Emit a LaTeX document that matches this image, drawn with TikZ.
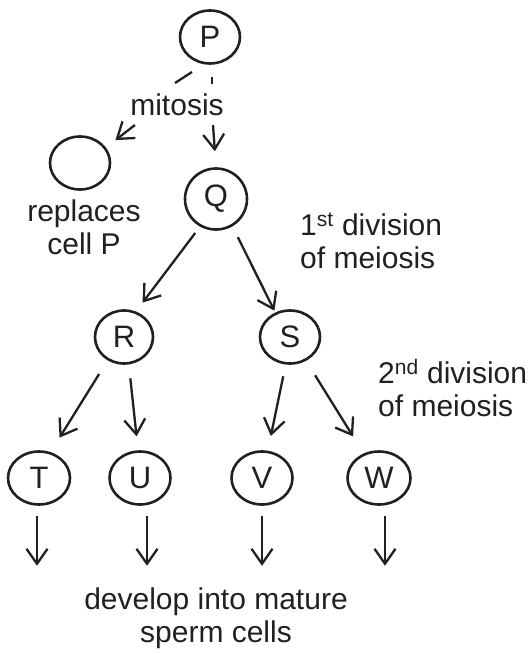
\documentclass[tikz,border=0pt]{standalone}
\usepackage{fontspec}
\setmainfont{Liberation Sans}
\usetikzlibrary{arrows.meta}
\usepgflibrary{shapes.geometric}
\definecolor{tinta}{RGB}{35,31,32}

\begin{document}
\begin{tikzpicture}[x=1pt,y=-1pt,
  celula/.style={draw=tinta, ellipse, line width=2.6pt, minimum width=60pt,
    minimum height=53pt, inner sep=0pt, text=tinta, font=\fontsize{31}{31}\selectfont},
  flecha/.style={draw=tinta, line width=2.3pt,
    -{Straight Barb[length=15pt,width=21pt]}},
  linea/.style={draw=tinta, line width=2.3pt},
  texto/.style={text=tinta, inner sep=0pt, font=\fontsize{30}{33}\selectfont}]
  \useasboundingbox (0,0) rectangle (530,655);

  % Celulas
  \node[celula] (P) at (210,37) {P};
  \node[celula] (X) at (80,163) {};
  \node[celula, minimum width=62pt, minimum height=61pt] (Q) at (216,199) {Q};
  \node[celula, minimum width=58pt] (R) at (124,337) {R};
  \node[celula] (S) at (290,337) {S};
  \node[celula, minimum width=62pt] (T) at (39,478) {T};
  \node[celula, minimum width=61pt] (U) at (140,478) {U};
  \node[celula, minimum width=61pt] (V) at (262,478) {V};
  \node[celula, minimum width=63pt] (W) at (379,478) {W};

  % Textos
  \node[texto] (mit) at (177,104.5) {mitosis};
  \node[texto, align=center] (rep) at (84,227) {replaces\\cell P};
  \node[texto, align=left, anchor=west] (mei1) at (300,240.5)
    {1\textsuperscript{st} division\\of meiosis};
  \node[texto, align=left, anchor=west] (mei2) at (378,388.5)
    {2\textsuperscript{nd} division\\of meiosis};
  \node[texto, align=center] (dev) at (216,618.5) {develop into mature\\sperm cells};

  % Mitosis: P -> X y P -> Q
  \coordinate (a1) at (192,72);
  \coordinate (a2) at (175,83);
  \coordinate (b1) at (212,77);
  \coordinate (b2) at (212,84);
  \draw[linea] (a1) -- (a2);
  \draw[linea] (b1) -- (b2);
  \coordinate (c1) at (135,125);
  \coordinate (d1) at (213,125);
  \draw[flecha, shorten >=12pt] (c1) -- (X.31);
  \draw[flecha, shorten >=16pt] (d1) -- (Q.north);

  % Primera division
  \draw[flecha, shorten <=8pt, shorten >=11pt] (Q.240) -- (R.65);
  \draw[flecha, shorten <=12pt, shorten >=2pt] (Q.301) -- (S.121);

  % Segunda division
  \draw[flecha, shorten <=16pt, shorten >=17pt] (R.235) -- (T.66);
  \draw[flecha, shorten <=14pt, shorten >=14pt] (R.280) -- (U.94);
  \draw[flecha, shorten <=12pt, shorten >=15pt] (S.261) -- (V.78);
  \draw[flecha, shorten <=17pt, shorten >=20pt] (S.304) -- (W.122);

  % Espermatozoides
  \foreach \c/\dx in {T/-2, U/7, V/0, W/6}
    \draw[flecha] ([xshift=\dx pt, yshift=-10pt]\c.south) -- ++(0,50);
\end{tikzpicture}
\end{document}
